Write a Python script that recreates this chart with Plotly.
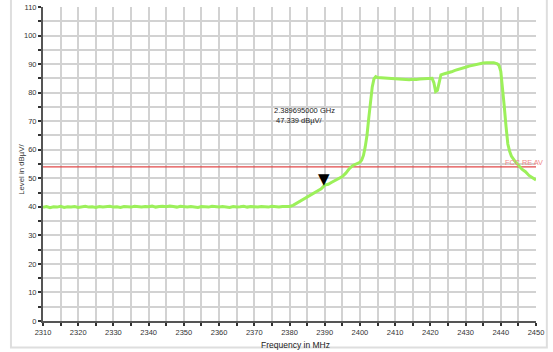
import plotly.graph_objects as go

# ---- data ----
freq_mhz = [
    2310, 2311, 2312, 2313, 2314, 2315, 2316, 2317, 2318, 2319,
    2320, 2321, 2322, 2323, 2324, 2325, 2326, 2327, 2328, 2329,
    2330, 2331, 2332, 2333, 2334, 2335, 2336, 2337, 2338, 2339,
    2340, 2341, 2342, 2343, 2344, 2345, 2346, 2347, 2348, 2349,
    2350, 2351, 2352, 2353, 2354, 2355, 2356, 2357, 2358, 2359,
    2360, 2361, 2362, 2363, 2364, 2365, 2366, 2367, 2368, 2369,
    2370, 2371, 2372, 2373, 2374, 2375, 2376, 2377, 2378, 2379,
    2380, 2381, 2382, 2383, 2384, 2385, 2386, 2387, 2388, 2389,
    2390, 2391, 2392, 2393, 2394, 2395, 2396, 2397, 2398, 2399,
    2400, 2400.5, 2401, 2401.5, 2402, 2402.5, 2403, 2403.5, 2404, 2404.5,
    2405, 2406, 2407, 2408, 2409, 2410, 2411, 2412, 2413, 2414,
    2415, 2416, 2417, 2418, 2419, 2420, 2420.5, 2421, 2421.5, 2422,
    2422.5, 2423, 2424, 2425, 2426, 2427, 2428, 2429, 2430, 2431,
    2432, 2433, 2434, 2435, 2436, 2437, 2438, 2439, 2439.5, 2440,
    2440.5, 2441, 2441.5, 2442, 2442.5, 2443, 2444, 2445, 2446, 2447,
    2448, 2449, 2450,
]
level_dbuv = [
    39.8, 40.1, 39.7, 40.0, 39.9, 40.2, 39.8, 40.0, 39.9, 40.1,
    39.8, 40.0, 40.2, 39.9, 40.0, 39.8, 40.1, 39.9, 40.0, 40.2,
    39.9, 40.0, 39.8, 40.1, 40.0, 39.9, 40.2, 40.0, 39.9, 40.1,
    40.0, 40.3, 39.9, 40.1, 40.2, 40.0, 40.3, 40.1, 39.9, 40.2,
    40.0, 39.9, 40.1, 40.0, 39.8, 40.1, 40.0, 39.9, 40.2, 40.0,
    39.9, 40.1, 40.0, 39.8, 40.1, 39.9, 40.0, 40.2, 39.9, 40.1,
    40.0, 39.9, 40.1, 40.0, 39.9, 40.2, 40.0, 39.9, 40.1, 40.0,
    40.1, 40.5, 41.2, 41.9, 42.5, 43.2, 43.9, 44.6, 45.3, 46.3,
    47.6, 47.9, 48.6, 49.2, 49.8, 50.6, 51.8, 53.4, 54.5, 55.0,
    55.6, 56.4, 58.0, 61.0, 65.0, 71.0, 77.0, 82.0, 84.9, 85.6,
    85.3, 85.2, 85.3, 85.0, 85.1, 84.9, 84.8, 84.7, 84.6, 84.5,
    84.7, 84.6, 84.8, 84.9, 85.0, 85.1, 85.0, 83.5, 80.4, 80.8,
    84.2, 86.2, 86.6, 86.9, 87.3, 87.8, 88.1, 88.5, 88.9, 89.3,
    89.6, 90.0, 90.2, 90.4, 90.5, 90.4, 90.5, 90.1, 89.5, 87.5,
    82.0, 75.0, 68.0, 62.0, 59.5, 57.8, 56.0, 54.5, 53.2, 52.3,
    51.0, 50.2, 49.4,
]

limit_level = 54
limit_label = "FCC RE AV"
marker_freq = 2389.695
marker_level = 47.339
marker_text = "2.389695000 GHz<br> 47.339 dBµV/"
text_pos_freq = 2384.3
text_pos_level = 72.0

x_range = [2310, 2450]
y_range = [0, 110]

FONT = "Liberation Sans, Arial, sans-serif"

fig = go.Figure()

fig.add_trace(go.Scatter(
    x=[x_range[0], x_range[1]], y=[limit_level, limit_level],
    mode="lines", line=dict(color="#e04848", width=1.2),
    hoverinfo="skip", showlegend=False,
))

fig.add_trace(go.Scatter(
    x=freq_mhz, y=level_dbuv, mode="lines",
    line=dict(color="#9cf05a", width=3),
    showlegend=False,
))

axis_common = dict(
    showline=True, linecolor="#555555", linewidth=2,
    showgrid=True, gridcolor="#d2d2d2", gridwidth=1.5,
    ticks="outside", ticklen=3, tickwidth=1.5, tickcolor="#333333",
    tickfont=dict(family=FONT, size=7.5, color="#333333"),
    zeroline=False, mirror=False, automargin=False,
)

fig.update_xaxes(
    range=x_range, dtick=10, tick0=2310,
    minor=dict(dtick=5, showgrid=True, gridcolor="#d2d2d2", gridwidth=1.5,
               ticks="outside", ticklen=3, tickcolor="#333333", tickwidth=1.5),
    **axis_common,
)
fig.update_yaxes(
    range=y_range, dtick=10, tick0=0,
    minor=dict(dtick=5, showgrid=True, gridcolor="#d2d2d2", gridwidth=1.5,
               ticks="outside", ticklen=3, tickcolor="#333333", tickwidth=1.5),
    **axis_common,
)

annotations = [
    dict(x=0.513, y=-0.077, xref="paper", yref="paper", text="Frequency in MHz",
         showarrow=False, font=dict(family=FONT, size=8.5, color="#222222"),
         xanchor="center", yanchor="middle"),
    dict(x=-0.045, y=0.484, xref="paper", yref="paper", text="Level in dBµV/",
         showarrow=False, textangle=-90, font=dict(family=FONT, size=7.8, color="#333333"),
         xanchor="center", yanchor="middle"),
    dict(x=1.018, y=limit_level, xref="paper", yref="y", text=limit_label,
         showarrow=False, font=dict(family=FONT, size=7.3, color="#f08888"),
         xanchor="right", yanchor="bottom", yshift=-2),
    dict(x=marker_freq, y=marker_level, xref="x", yref="y", text="▼",
         showarrow=False, font=dict(family="DejaVu Sans", size=15, color="#000000"),
         xanchor="center", yanchor="bottom", yshift=-4),
    dict(x=text_pos_freq, y=text_pos_level, xref="x", yref="y", text=marker_text,
         showarrow=False, font=dict(family=FONT, size=7.5, color="#222222"),
         xanchor="center", yanchor="middle", align="left"),
]

fig.update_layout(
    width=553, height=352,
    margin=dict(l=43, r=17, t=7, b=31),
    paper_bgcolor="white", plot_bgcolor="white",
    annotations=annotations,
    shapes=[dict(type="rect", xref="paper", yref="paper",
                 x0=-0.065, x1=1.022, y0=-0.084, y1=1.05,
                 line=dict(color="#dedede", width=2), layer="above")],
)

fig.write_html("out.html", config={"displayModeBar": False},
               post_script="document.body.style.margin='0px';")
